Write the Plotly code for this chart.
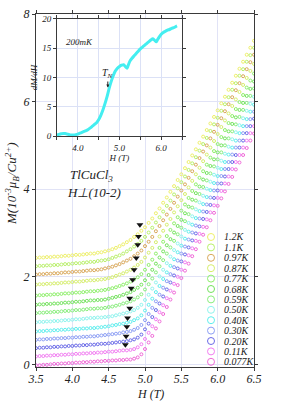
import plotly.graph_objects as go

# ---------------- data ----------------
H = [3.50, 3.55, 3.60, 3.65, 3.70, 3.75, 3.80, 3.85, 3.90, 3.95,
     4.00, 4.05, 4.10, 4.15, 4.20, 4.25, 4.30, 4.35, 4.40, 4.45,
     4.50, 4.55, 4.60, 4.65, 4.70, 4.75, 4.80, 4.85, 4.90, 4.95,
     5.00, 5.05, 5.10, 5.15, 5.20, 5.25, 5.30, 5.35, 5.40, 5.45,
     5.50, 5.55, 5.60, 5.65, 5.70, 5.75, 5.80, 5.85, 5.90, 5.95,
     6.00, 6.05, 6.10, 6.15, 6.20, 6.25, 6.30, 6.35, 6.40, 6.45, 6.50]

M_1p2K = [2.43, 2.44, 2.44, 2.45, 2.45, 2.46, 2.46, 2.47, 2.48, 2.48, 2.49, 2.50, 2.50, 2.51, 2.52, 2.53, 2.53, 2.55,
          2.56, 2.58, 2.60, 2.63, 2.66, 2.70, 2.74, 2.79, 2.84, 2.91, 2.97, 3.05, 3.13, 3.23, 3.33, 3.45, 3.56, 3.69,
          3.81, 3.94, 4.07, 4.21, 4.34, 4.48, 4.62, 4.77, 4.91, 5.06, 5.20, 5.35, 5.50, 5.65, 5.80, 5.96, 6.11, 6.27,
          6.43, 6.59, 6.75, 6.91, 7.07, 7.23, 7.39]
M_1p1K = [2.24, 2.25, 2.25, 2.26, 2.26, 2.27, 2.27, 2.28, 2.29, 2.29, 2.30, 2.31, 2.31, 2.32, 2.33, 2.34, 2.34, 2.36,
          2.37, 2.38, 2.40, 2.43, 2.46, 2.49, 2.53, 2.58, 2.63, 2.69, 2.75, 2.82, 2.91, 3.01, 3.12, 3.24, 3.36, 3.49,
          3.62, 3.74, 3.88, 4.02, 4.16, 4.29, 4.44, 4.59, 4.73, 4.88, 5.03, 5.17, 5.33, 5.48, 5.63, 5.79, 5.94, 6.10,
          6.27, 6.42, 6.59, 6.74, 6.91, 7.06, 7.23]
M_0p97K = [2.05, 2.06, 2.06, 2.07, 2.07, 2.08, 2.08, 2.09, 2.10, 2.10, 2.11, 2.12, 2.12, 2.13, 2.14, 2.15, 2.15, 2.16,
           2.17, 2.19, 2.21, 2.23, 2.26, 2.29, 2.33, 2.37, 2.41, 2.47, 2.53, 2.60, 2.70, 2.80, 2.91, 3.04, 3.16, 3.29,
           3.42, 3.55, 3.69, 3.83, 3.97, 4.11, 4.26, 4.41, 4.56, 4.71, 4.86, 5.00, 5.16, 5.31, 5.47, 5.62, 5.78, 5.94,
           6.10, 6.26, 6.42, 6.58, 6.74, 6.90, 7.07]
M_0p87K = [1.82, 1.83, 1.83, 1.84, 1.84, 1.85, 1.85, 1.86, 1.87, 1.87, 1.88, 1.89, 1.89, 1.90, 1.91, 1.92, 1.92, 1.93,
           1.94, 1.95, 1.97, 1.99, 2.02, 2.05, 2.08, 2.12, 2.16, 2.21, 2.27, 2.34, 2.44, 2.55, 2.66, 2.79, 2.92, 3.05,
           3.19, 3.32, 3.47, 3.61, 3.75, 3.89, 4.04, 4.19, 4.34, 4.49, 4.64, 4.79, 4.95, 5.10, 5.26, 5.42, 5.57, 5.73,
           5.90, 6.05, 6.22, 6.38, 6.54, 6.70, 6.86]
M_0p77K = [1.57, 1.58, 1.58, 1.59, 1.59, 1.60, 1.60, 1.61, 1.62, 1.62, 1.63, 1.64, 1.64, 1.65, 1.66, 1.67, 1.67, 1.68,
           1.69, 1.70, 1.72, 1.74, 1.76, 1.79, 1.82, 1.85, 1.89, 1.94, 1.99, 2.06, 2.16, 2.27, 2.39, 2.53, 2.66, 2.80,
           2.93, 3.07, 3.22, 3.36, 3.51, 3.65, 3.80, 3.96, 4.11, 4.26, 4.41, 4.56, 4.72, 4.87, 5.03, 5.19, 5.35, 5.51,
           5.67, 5.83, 5.99, 6.15, 6.32, 6.48, 6.64]
M_0p68K = [1.36, 1.37, 1.37, 1.38, 1.38, 1.39, 1.39, 1.40, 1.41, 1.41, 1.42, 1.43, 1.43, 1.44, 1.45, 1.46, 1.46, 1.47,
           1.47, 1.48, 1.50, 1.52, 1.54, 1.56, 1.59, 1.62, 1.65, 1.70, 1.75, 1.82, 1.92, 2.04, 2.16, 2.30, 2.44, 2.58,
           2.72, 2.86, 3.01, 3.16, 3.30, 3.45, 3.60, 3.76, 3.91, 4.06, 4.22, 4.37, 4.53, 4.68, 4.84, 5.00, 5.16, 5.32,
           5.49, 5.64, 5.81, 5.97, 6.13, 6.29, 6.46]
M_0p59K = [1.17, 1.18, 1.18, 1.19, 1.19, 1.20, 1.20, 1.21, 1.22, 1.22, 1.23, 1.24, 1.24, 1.25, 1.26, 1.27, 1.27, 1.28,
           1.28, 1.29, 1.31, 1.32, 1.34, 1.36, 1.39, 1.41, 1.44, 1.48, 1.53, 1.60, 1.71, 1.83, 1.96, 2.10, 2.24, 2.38,
           2.53, 2.67, 2.82, 2.97, 3.12, 3.27, 3.43, 3.58, 3.74, 3.89, 4.05, 4.20, 4.36, 4.52, 4.68, 4.84, 5.00, 5.16,
           5.32, 5.48, 5.65, 5.81, 5.97, 6.13, 6.30]
M_0p50K = [0.96, 0.97, 0.97, 0.98, 0.98, 0.99, 0.99, 1.00, 1.01, 1.01, 1.02, 1.03, 1.03, 1.04, 1.05, 1.06, 1.06, 1.07,
           1.07, 1.08, 1.09, 1.10, 1.12, 1.14, 1.16, 1.18, 1.21, 1.24, 1.29, 1.36, 1.47, 1.59, 1.73, 1.87, 2.01, 2.16,
           2.31, 2.46, 2.61, 2.76, 2.92, 3.07, 3.23, 3.38, 3.54, 3.70, 3.85, 4.01, 4.17, 4.33, 4.49, 4.65, 4.81, 4.97,
           5.14, 5.30, 5.46, 5.62, 5.79, 5.95, 6.11]
M_0p40K = [0.75, 0.76, 0.76, 0.77, 0.77, 0.78, 0.78, 0.79, 0.79, 0.80, 0.80, 0.81, 0.81, 0.82, 0.82, 0.83, 0.83, 0.84,
           0.85, 0.86, 0.87, 0.89, 0.90, 0.92, 0.93, 0.95, 0.97, 1.01, 1.05, 1.12, 1.23, 1.36, 1.50, 1.65, 1.79, 1.95,
           2.10, 2.25, 2.40, 2.56, 2.71, 2.87, 3.03, 3.19, 3.34, 3.50, 3.66, 3.82, 3.98, 4.14, 4.30, 4.46, 4.62, 4.79,
           4.95, 5.11, 5.28, 5.44, 5.60, 5.77, 5.93]
M_0p30K = [0.56, 0.57, 0.57, 0.58, 0.58, 0.59, 0.59, 0.60, 0.60, 0.61, 0.61, 0.62, 0.62, 0.63, 0.63, 0.64, 0.64, 0.65,
           0.66, 0.67, 0.68, 0.69, 0.70, 0.71, 0.73, 0.74, 0.76, 0.79, 0.83, 0.90, 1.01, 1.15, 1.29, 1.44, 1.59, 1.75,
           1.90, 2.06, 2.22, 2.37, 2.53, 2.69, 2.85, 3.01, 3.17, 3.33, 3.49, 3.65, 3.81, 3.97, 4.13, 4.30, 4.46, 4.62,
           4.79, 4.95, 5.11, 5.28, 5.44, 5.60, 5.77]
M_0p20K = [0.37, 0.38, 0.38, 0.39, 0.39, 0.40, 0.40, 0.41, 0.41, 0.42, 0.42, 0.43, 0.43, 0.44, 0.44, 0.45, 0.45, 0.46,
           0.47, 0.47, 0.48, 0.49, 0.50, 0.51, 0.52, 0.53, 0.55, 0.57, 0.61, 0.68, 0.80, 0.93, 1.08, 1.24, 1.39, 1.55,
           1.71, 1.87, 2.03, 2.19, 2.35, 2.51, 2.67, 2.83, 2.99, 3.15, 3.32, 3.48, 3.64, 3.80, 3.97, 4.13, 4.29, 4.46,
           4.62, 4.78, 4.95, 5.11, 5.28, 5.44, 5.61]
M_0p11K = [0.18, 0.19, 0.19, 0.20, 0.20, 0.21, 0.21, 0.22, 0.22, 0.23, 0.23, 0.24, 0.24, 0.25, 0.25, 0.26, 0.26, 0.27,
           0.27, 0.28, 0.29, 0.29, 0.30, 0.31, 0.32, 0.32, 0.33, 0.35, 0.39, 0.46, 0.58, 0.72, 0.87, 1.03, 1.19, 1.35,
           1.51, 1.68, 1.84, 2.00, 2.16, 2.33, 2.49, 2.65, 2.82, 2.98, 3.14, 3.31, 3.47, 3.63, 3.80, 3.96, 4.13, 4.29,
           4.46, 4.62, 4.78, 4.95, 5.11, 5.28, 5.44]
M_0p077K = [-0.02, -0.02, -0.01, -0.01, 0.00, 0.01, 0.01, 0.02, 0.02, 0.03, 0.03, 0.04, 0.04, 0.05, 0.05, 0.06, 0.06, 0.07,
            0.07, 0.08, 0.08, 0.09, 0.09, 0.10, 0.10, 0.11, 0.11, 0.13, 0.16, 0.23, 0.35, 0.50, 0.65, 0.82, 0.98, 1.15,
            1.31, 1.48, 1.64, 1.81, 1.97, 2.14, 2.30, 2.47, 2.63, 2.80, 2.96, 3.13, 3.29, 3.46, 3.62, 3.79, 3.95, 4.12,
            4.28, 4.45, 4.61, 4.78, 4.94, 5.11, 5.27]

temps = ["1.2K", "1.1K", "0.97K", "0.87K", "0.77K", "0.68K", "0.59K",
         "0.50K", "0.40K", "0.30K", "0.20K", "0.11K", "0.077K"]
series = [M_1p2K, M_1p1K, M_0p97K, M_0p87K, M_0p77K, M_0p68K, M_0p59K,
          M_0p50K, M_0p40K, M_0p30K, M_0p20K, M_0p11K, M_0p077K]

# transition markers (black arrows)
arrow_H = [4.93, 4.91, 4.90, 4.88, 4.85, 4.83, 4.81, 4.79, 4.79, 4.76, 4.75, 4.74, 4.73]
arrow_M = [3.19, 2.92, 2.73, 2.43, 2.16, 1.93, 1.74, 1.51, 1.28, 1.06, 0.86, 0.64, 0.45]

# inset: dM/dH at 200 mK
inset_H = [3.50, 3.55, 3.60, 3.65, 3.70, 3.75, 3.80, 3.85, 3.90, 3.95, 4.00, 4.05, 4.10, 4.15,
           4.20, 4.25, 4.30, 4.35, 4.40, 4.45, 4.50, 4.55, 4.60, 4.65, 4.70, 4.75, 4.80, 4.85,
           4.90, 4.95, 5.00, 5.05, 5.10, 5.15, 5.18, 5.20, 5.25, 5.30, 5.35, 5.40, 5.45, 5.50,
           5.55, 5.60, 5.65, 5.70, 5.75, 5.80, 5.85, 5.88, 5.90, 5.95, 6.00, 6.05, 6.10, 6.15,
           6.20, 6.25, 6.30, 6.35, 6.38]
inset_dMdH = [0.2, 0.3, 0.4, 0.45, 0.45, 0.35, 0.25, 0.2, 0.2, 0.25, 0.35, 0.5, 0.65, 0.8,
              0.95, 1.15, 1.4, 1.7, 2.0, 2.3, 2.8, 3.5, 4.4, 5.5, 6.7, 8.1, 9.3, 10.3,
              11.1, 11.6, 11.9, 12.1, 12.2, 11.8, 11.6, 11.9, 12.8, 13.3, 13.7, 14.1, 14.5, 14.9,
              15.2, 15.5, 15.8, 16.1, 16.4, 16.6, 16.3, 16.1, 16.3, 16.9, 17.4, 17.7, 17.9, 18.1,
              18.2, 18.4, 18.5, 18.7, 18.8]

x_ticks = [3.5, 4.0, 4.5, 5.0, 5.5, 6.0, 6.5]
x_ticklabels = ["3.5", "4.0", "4.5", "5.0", "5.5", "6.0", "6.5"]
y_ticks = [0, 2, 4, 6, 8]
inset_x_ticks = [4.0, 5.0, 6.0]
inset_x_ticklabels = ["4.0", "5.0", "6.0"]
inset_y_ticks = [0, 5, 10, 15, 20]

# ---------------- style ----------------
colors = ["#eef06a", "#b9f06a", "#d9a85a", "#d6ee6c", "#8ef06a", "#72e25c", "#88ee7c",
          "#8ff4ee", "#5eeeee", "#8c9ef5", "#6a6ae8", "#f27ef2", "#f06ad8"]
SERIF = "Liberation Serif"
AX = "#3a3a3a"
W, HT = 282, 403
ML, MR, MT, MB = 36, 28, 14, 36
PW, PH = W - ML - MR, HT - MT - MB


def px_to_paper(px, py):
    return (px - ML) / PW, (HT - MB - py) / PH


fig = go.Figure()

for name, vals, col in zip(temps, series, colors):
    fig.add_trace(go.Scatter(
        x=H, y=vals, mode="markers", name=name, showlegend=False, hoverinfo="skip",
        marker=dict(symbol="circle-open", size=3, color=col, line=dict(width=1, color=col)),
        xaxis="x", yaxis="y"))

fig.add_trace(go.Scatter(
    x=arrow_H, y=arrow_M, mode="markers", showlegend=False, hoverinfo="skip",
    marker=dict(symbol="triangle-down", size=6, color="#111111"), xaxis="x", yaxis="y"))

fig.add_trace(go.Scatter(
    x=inset_H, y=inset_dMdH, mode="lines", showlegend=False, hoverinfo="skip",
    line=dict(color="#44eef0", width=3, shape="spline", smoothing=0.6), xaxis="x2", yaxis="y2"))

tickfont_main = dict(family=SERIF, size=12, color="#222", style="italic")
tickfont_inset = dict(family=SERIF, size=9, color="#222", style="italic")

fig.update_layout(
    width=W, height=HT,
    margin=dict(l=ML, r=MR, t=MT, b=MB, autoexpand=False),
    paper_bgcolor="white", plot_bgcolor="white",
    showlegend=False,
    xaxis=dict(domain=[0, 1], range=[3.5, 6.5], tickvals=x_ticks, ticktext=x_ticklabels,
               ticks="outside", ticklen=3, tickcolor=AX, showline=True, linecolor=AX, linewidth=1,
               mirror="ticks", showgrid=True, gridcolor="#e1e3f6", gridwidth=1, zeroline=False,
               tickfont=tickfont_main, anchor="y", automargin=False, ticklabelstandoff=-2),
    yaxis=dict(domain=[0, 1], range=[-0.06, 8.0], tickvals=y_ticks,
               ticks="outside", ticklen=3, tickcolor=AX, showline=True, linecolor=AX, linewidth=1,
               mirror="ticks", showgrid=True, gridcolor="#e1e3f6", gridwidth=1, zeroline=False,
               tickfont=tickfont_main, anchor="x", automargin=False),
    xaxis2=dict(domain=[0.096, 0.670], range=[3.5, 6.5], tickvals=inset_x_ticks, ticktext=inset_x_ticklabels,
                ticks="outside", ticklen=3, tickcolor=AX, showline=True, linecolor=AX, linewidth=1,
                mirror="ticks", showgrid=True, gridcolor="#dbe1f6", zeroline=False,
                minor=dict(tickvals=[3.5, 4.5, 5.5, 6.5], ticks="outside", ticklen=3, tickcolor=AX,
                           showgrid=True, gridcolor="#dbe1f6"),
                tickfont=tickfont_inset, anchor="y2", automargin=False,
                title=dict(text="H (T)", font=dict(family=SERIF, size=9, color="#222", style="italic"),
                           standoff=0)),
    yaxis2=dict(domain=[0.654, 0.986], range=[0, 20], tickvals=inset_y_ticks,
                ticks="outside", ticklen=3, tickcolor=AX, showline=True, linecolor=AX, linewidth=1,
                mirror="ticks", showgrid=True, gridcolor="#dbe1f6", zeroline=False,
                tickfont=tickfont_inset, anchor="x2", automargin=False,
                title=dict(text="dM/dH", font=dict(family=SERIF, size=9, color="#222", style="italic"),
                           standoff=2)),
)

ann = []
it = dict(family=SERIF, color="#222", style="italic")

# axis titles
tx, ty = px_to_paper(150, 394)
ann.append(dict(text="H (T)", x=tx, y=ty, xref="paper", yref="paper", showarrow=False,
                font=dict(size=12, **it), xanchor="center", yanchor="middle"))
tx, ty = px_to_paper(12, 184)
ann.append(dict(text="M(10<sup>-3</sup>μ<sub>B</sub>/Cu<sup>2+</sup>)", x=tx, y=ty, xref="paper", yref="paper",
                showarrow=False, textangle=-90, font=dict(size=13, **it),
                xanchor="center", yanchor="middle"))

# sample labels
ann.append(dict(text="TlCuCl<sub>3</sub>", x=4.27, y=4.32, xref="x", yref="y", showarrow=False,
                font=dict(size=13, **it)))
ann.append(dict(text="H⊥(10-2)", x=4.30, y=3.92, xref="x", yref="y", showarrow=False,
                font=dict(size=13, **it)))

# inset labels
ann.append(dict(text="200mK", x=3.68, y=16.1, xref="x2", yref="y2", showarrow=False,
                xanchor="left", font=dict(size=9, **it)))
ann.append(dict(text="T<sub>N</sub>", x=4.72, y=8.3, xref="x2", yref="y2", showarrow=True,
                ax=0, ay=-14, arrowhead=2, arrowsize=0.6, arrowwidth=1, arrowcolor="#222",
                font=dict(size=10, **it)))

# manual legend
shapes = []
y0, dy = 237.0, 10.4
for i, (name, col) in enumerate(zip(temps, colors)):
    py = y0 + dy * i
    mx, my = px_to_paper(211, py)
    shapes.append(dict(type="circle", xref="paper", yref="paper", xsizemode="pixel", ysizemode="pixel",
                       xanchor=mx, yanchor=my, x0=-3.5, x1=3.5, y0=-3.5, y1=3.5,
                       line=dict(color=col, width=1), fillcolor="rgba(0,0,0,0)"))
    lx, ly = px_to_paper(222, py)
    ann.append(dict(text=name, x=lx, y=ly, xref="paper", yref="paper", showarrow=False,
                    xanchor="left", yanchor="middle", font=dict(size=10, **it)))

fig.update_layout(annotations=ann, shapes=shapes)
fig.write_html("out.html",
               config={"displayModeBar": False, "staticPlot": True},
               post_script="document.body.style.margin='0';document.body.style.padding='0';")
